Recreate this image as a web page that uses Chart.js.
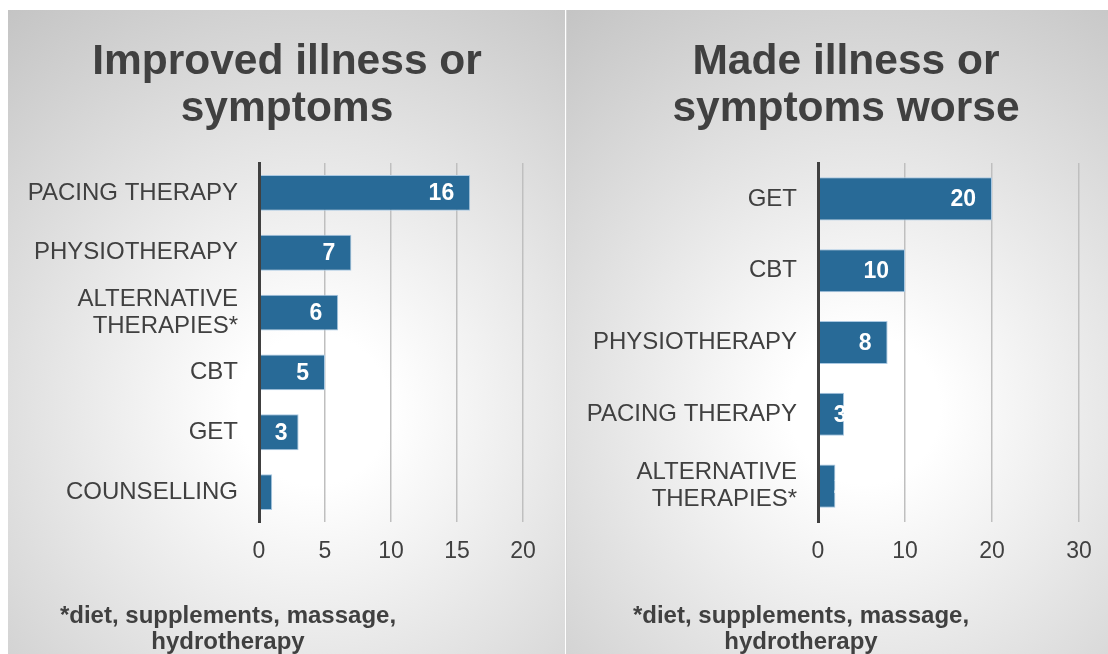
<!DOCTYPE html>
<html>
<head>
<meta charset="utf-8">
<script src="https://cdn.jsdelivr.net/npm/chart.js@4"></script>
<style>
  body { margin: 0; background: #fff; width: 1108px; height: 654px; overflow: hidden; font-family: 'Liberation Sans', Arial, sans-serif; }
  .panel { position: absolute; top: 10px; height: 644px; overflow: hidden;
    background: radial-gradient(circle farthest-corner at 55% 62%, #ffffff 0%, #ffffff 15%, #c4c4c4 100%); }
  #p1 { left: 8px; width: 557px; }
  #p2 { left: 566px; width: 542px; border-left: 1px solid #d4d4d4; }
  .panel canvas { position: absolute; left: 0; top: 0; }
  .title { position: absolute; top: 26px; left: 29px; width: 500px; text-align: center; font-weight: bold;
    font-size: 42.5px; line-height: 47px; color: #404040; }
  .note { position: absolute; top: 592px; width: 400px; text-align: center; font-weight: bold;
    font-size: 24px; line-height: 26px; color: #404040; }
</style>
</head>
<body>
<div class="panel" id="p1">
  <canvas id="c1" width="557" height="644"></canvas>
  <div class="title" id="t1"></div>
  <div class="note" style="left:20px">*diet, supplements, massage,<br>hydrotherapy</div>
</div>
<div class="panel" id="p2">
  <canvas id="c2" width="542" height="644"></canvas>
  <div class="title" id="t2"></div>
  <div class="note" style="left:34px">*diet, supplements, massage,<br>hydrotherapy</div>
</div>
<script>
// left chart: improved
const improvedTitle = ['Improved illness or', 'symptoms'];
const improvedLabels = ['PACING THERAPY', 'PHYSIOTHERAPY', ['ALTERNATIVE', 'THERAPIES*'], 'CBT', 'GET', 'COUNSELLING'];
const improvedValues = [16, 7, 6, 5, 3, 1];
const improvedTicks = [0, 5, 10, 15, 20];

// right chart: worse
const worseTitle = ['Made illness or', 'symptoms worse'];
const worseLabels = ['GET', 'CBT', 'PHYSIOTHERAPY', 'PACING THERAPY', ['ALTERNATIVE', 'THERAPIES*']];
const worseValues = [20, 10, 8, 3, 2];
const worseTicks = [0, 10, 20, 30];

const FONT = "'Liberation Sans', Arial, sans-serif";
const TXT = '#404040';

// white value labels at the inside end, cut off by the bar like in excel
const barLabels = {
  id: 'barLabels',
  afterDatasetsDraw(chart) {
    const ctx = chart.ctx;
    const meta = chart.getDatasetMeta(0);
    const data = chart.data.datasets[0].data;
    ctx.save();
    ctx.font = 'bold 23px ' + FONT;
    ctx.fillStyle = '#ffffff';
    ctx.textBaseline = 'middle';
    ctx.textAlign = 'left';
    meta.data.forEach((bar, i) => {
      const p = bar.getProps(['x', 'y', 'base', 'height'], true);
      const txt = String(data[i]);
      const w = ctx.measureText(txt).width;
      const right = Math.max(p.x - 16, p.base + 15 + w);
      ctx.save();
      ctx.beginPath();
      ctx.rect(p.base, p.y - p.height / 2, p.x - p.base, p.height);
      ctx.clip();
      ctx.fillText(txt, right - w, p.y + 1);
      ctx.restore();
    });
    ctx.restore();
  }
};

function makeChart(id, titleId, title, labels, values, ticks, padRight) {
  document.getElementById(titleId).innerHTML = title.join('<br>');
  return new Chart(document.getElementById(id), {
    type: 'bar',
    data: {
      labels: labels,
      datasets: [{
        data: values,
        backgroundColor: '#286a97',
        borderColor: '#a9c8e2',
        borderWidth: 1,
        barPercentage: 1,
        categoryPercentage: 0.6
      }]
    },
    options: {
      indexAxis: 'y',
      responsive: false,
      animation: false,
      layout: { padding: { left: 0, right: padRight, top: 153, bottom: 72 } },
      plugins: {
        legend: { display: false },
        tooltip: { enabled: false },
        title: { display: false }
      },
      scales: {
        x: {
          min: ticks[0],
          max: ticks[ticks.length - 1],
          afterBuildTicks(s) { s.ticks = ticks.map(v => ({ value: v })); },
          ticks: { color: TXT, font: { family: FONT, size: 23 }, padding: 16 },
          grid: { color: '#bfbfbf', lineWidth: 1.5, drawTicks: false },
          border: { display: false },
          afterFit(s) { s.height = 60; s.paddingLeft = 0; s.paddingRight = 0; }
        },
        y: {
          ticks: { color: TXT, font: { family: FONT, size: 24, lineHeight: 1.125 }, padding: 21 },
          grid: { display: false, drawTicks: false },
          border: { color: '#404040', width: 3, z: 1 },
          afterFit(s) { s.width = 251; s.paddingTop = 0; s.paddingBottom = 0; }
        }
      }
    },
    plugins: [barLabels]
  });
}

makeChart('c1', 't1', improvedTitle, improvedLabels, improvedValues, improvedTicks, 42);
makeChart('c2', 't2', worseTitle, worseLabels, worseValues, worseTicks, 30);
</script>
</body>
</html>
